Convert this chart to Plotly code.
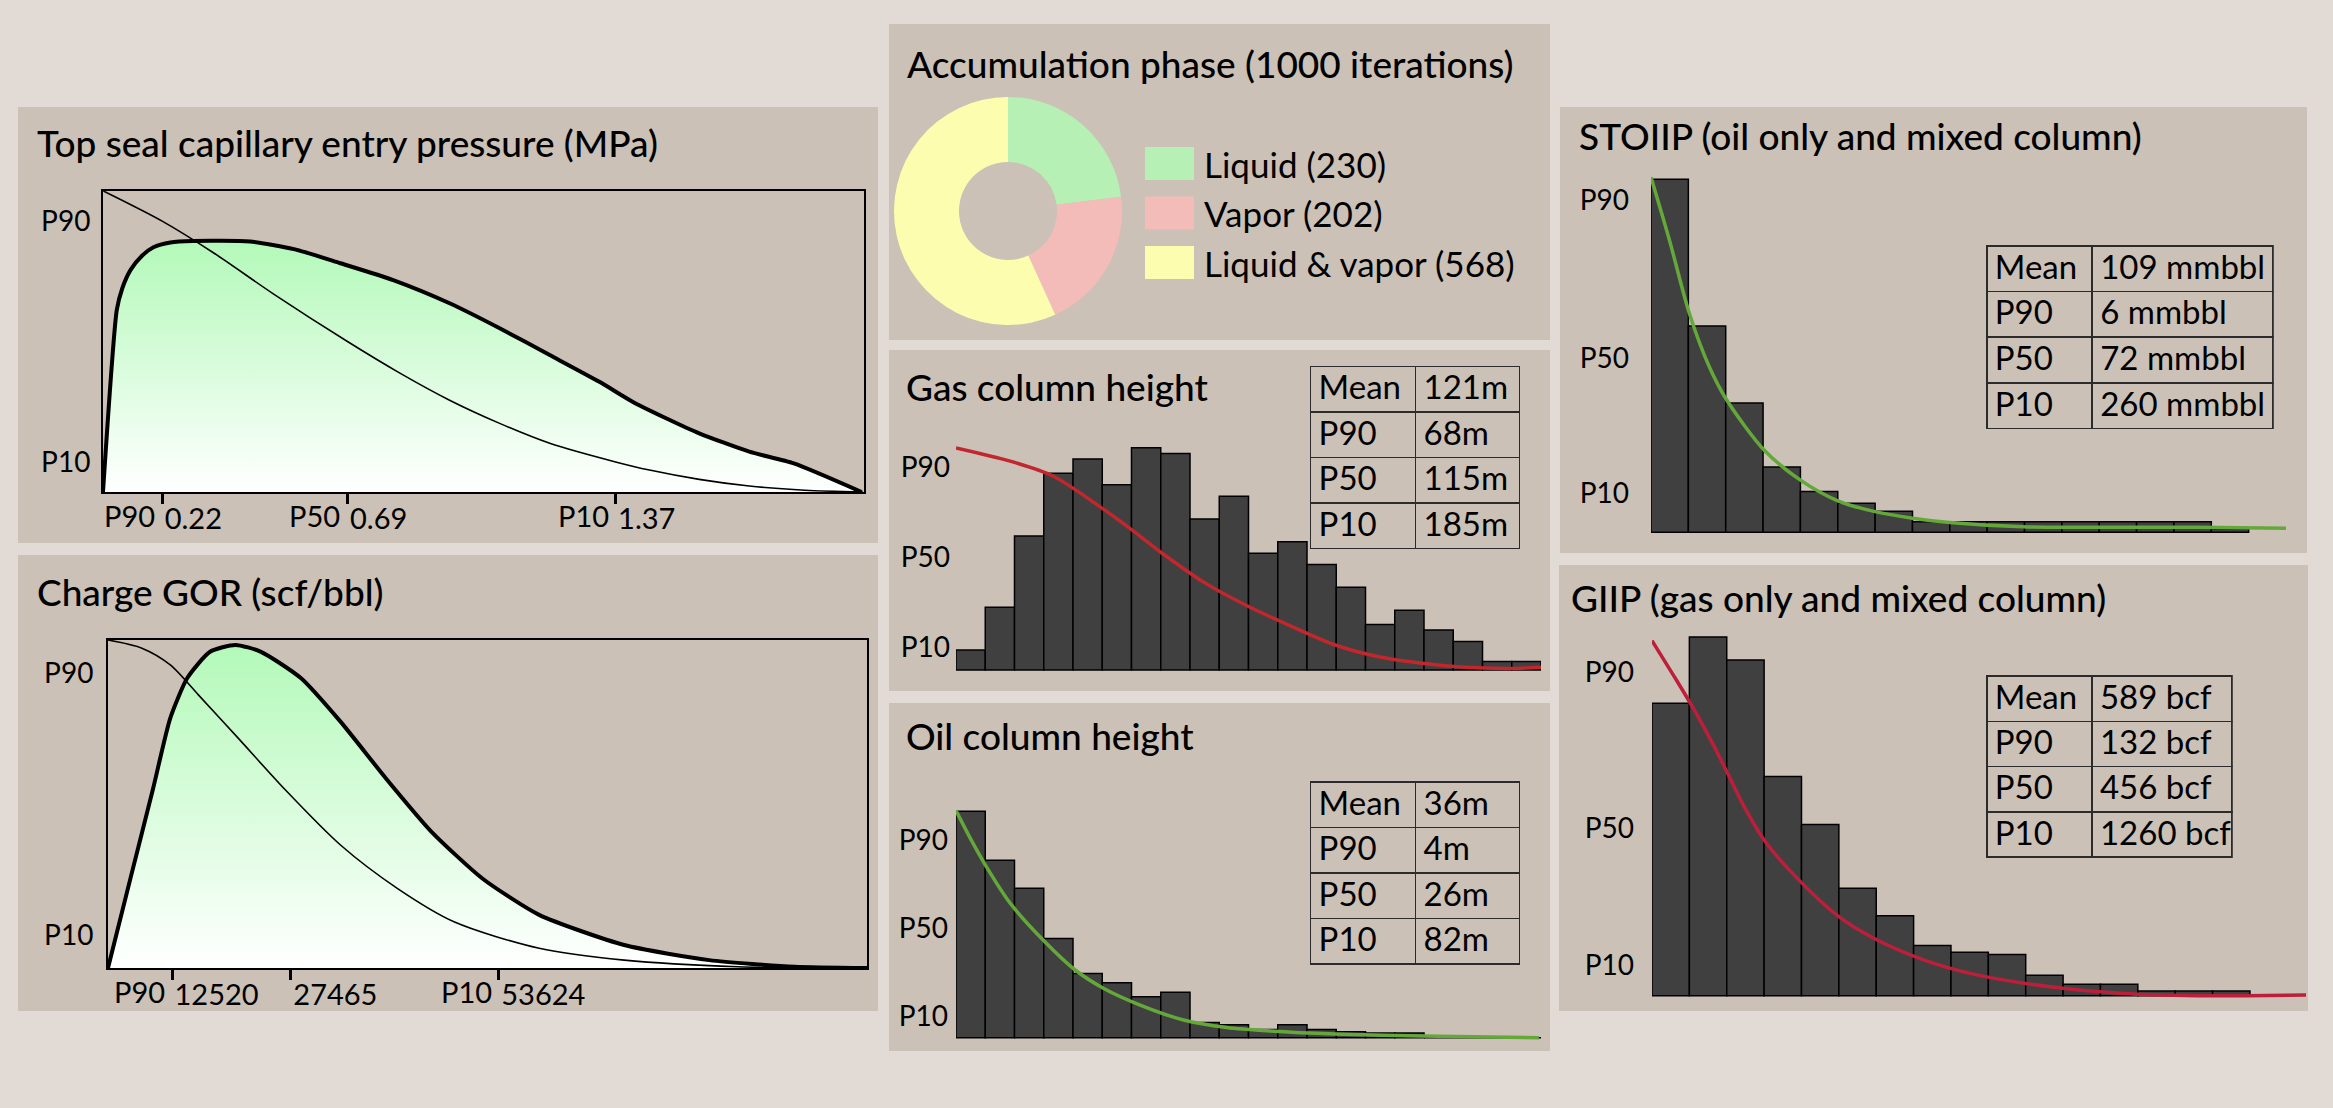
import plotly.graph_objects as go

W, H = 2333, 1108
PAGE = "#e2dbd5"
PANEL = "#cbc1b6"
BAR = "#404040"
FILL_GREEN = "#b3f9b9"
FONT = "Lato"

# ---- Top seal capillary entry pressure (MPa) ----
seal_pdf_x = [0.07, 0.105, 0.119, 0.14, 0.169, 0.198, 0.241, 0.298, 0.443, 0.557,
              0.672, 0.806, 0.949, 1.076, 1.203, 1.329, 1.413, 1.498, 1.582, 1.709,
              1.822, 1.994]
seal_pdf_y = [0, 60.5, 67.7, 73.8, 78.5, 81.3, 82.9, 83.4, 83.2, 80.6,
              76, 70.4, 62.7, 54.4, 45.5, 36.6, 30, 24.5, 19.5, 13.4,
              9.5, 0]
seal_exc_x = [0.071, 0.22, 0.35, 0.50, 0.69, 0.823, 0.949, 1.076, 1.203, 1.37,
              1.456, 1.582, 1.709, 1.85, 1.997]
seal_exc_y = [100, 90, 79.5, 66, 50, 39.5, 30.5, 22.8, 16.2, 10,
              7.3, 4.2, 2.0, 0.6, 0]
seal_ticks = [0.22, 0.69, 1.37]
seal_tick_names = ["P90", "P50", "P10"]

# ---- Charge GOR (scf/bbl) ----
gor_pdf_x = [4465, 7296, 10155, 12300, 14440, 17300, 20500, 23710, 28720, 33710,
             39430, 45130, 51560, 58700, 69400, 80100, 90830, 99940]
gor_pdf_y = [0, 27.4, 54.9, 76.2, 88.4, 96.4, 98.5, 96.4, 88.4, 75.1,
             57.8, 41.6, 27.3, 16.2, 7, 2.4, 0.4, 0]
gor_exc_x = [4465, 8730, 12300, 15860, 20870, 26580, 33710, 40850, 47990, 58700,
             69400, 83700, 99940]
gor_exc_y = [100, 97.5, 92.4, 83.2, 70, 54.8, 37.5, 24.3, 14.1, 6, 2.4, 0.4, 0]
gor_ticks = [12520, 27465, 53624]
gor_tick_names = ["P90", "", "P10"]

# ---- Accumulation phase ----
phase_labels = ["Liquid", "Vapor", "Liquid & vapor"]
phase_counts = [230, 202, 568]
phase_colors = ["#b6f0b4", "#f4bcb9", "#fdfdb0"]

# ---- histograms (counts per bin) and fitted curves ----
gas_counts = [7, 22, 47, 69, 74, 65, 78, 76, 53, 61, 41, 45, 37, 29, 16, 21, 14, 10, 3, 3]
gas_bin_start, gas_bin_width = 35, 10.9
gas_curve_x = [35, 55.2, 71.3, 87.5, 100.4, 111.7, 127.9, 144, 160.2, 176.3,
               192.5, 208.6, 224.8, 240.9, 253]
gas_curve_y = [98.7, 92.8, 86.1, 73.5, 62.4, 52, 38.6, 28.2, 19.3, 11.1,
               5.9, 3, 1.2, 0.7, 1.2]
gas_stats = ["121m", "68m", "115m", "185m"]

oil_counts = [194, 152, 128, 85, 55, 47, 35, 39, 13, 11, 7, 11, 7, 5, 4, 4, 0, 0, 0, 0]
oil_bin_start, oil_bin_width = 0, 10.8
oil_curve_x = [0, 5.6, 11.2, 20, 32.8, 44, 54.4, 68, 84, 100, 116, 140, 172, 215.2]
oil_curve_y = [103.7, 90.3, 78.1, 61.4, 43.8, 30.9, 22.6, 14.9, 8.1, 4.7, 3.1, 1.7, 0.8, 0]
oil_stats = ["36m", "4m", "26m", "82m"]

stoiip_counts = [303, 177, 111, 56, 35, 25, 18, 9, 9, 9, 9, 9, 9, 9, 9, 3]
stoiip_bin_start, stoiip_bin_width = 0, 40
stoiip_curve_x = [0, 19.7, 41.1, 62.4, 81.1, 121.1, 160, 200, 240, 280, 320,
                  398.4, 478.4, 585, 681]
stoiip_curve_y = [98, 80.7, 60.4, 45.7, 36.5, 22.7, 14.4, 8.7, 5.7, 3.9, 2.7,
                  1.5, 1.4, 1.4, 1.1]
stoiip_stats = ["109 mmbbl", "6 mmbbl", "72 mmbbl", "260 mmbbl"]

giip_counts = [128, 157, 147, 96, 75, 47, 35, 22, 19, 18, 9, 5, 5, 2, 2, 2]
giip_bin_start, giip_bin_width = 0, 170
giip_curve_x = [0, 102, 192.7, 283.3, 351.3, 419.3, 510, 668.7, 850, 1008.7,
                1235.3, 1462, 1802, 2142, 2482, 2708.7, 2980.7]
giip_curve_y = [97.1, 87.2, 78.1, 68.1, 59.9, 51.7, 42.6, 31.6, 21.6, 15.7,
                9.8, 5.9, 2.5, 0.6, 0, 0, 0.2]
giip_stats = ["589 bcf", "132 bcf", "456 bcf", "1260 bcf"]

stat_names = ["Mean", "P90", "P50", "P10"]


def dx(x0, x1):
    return [x0 / W, x1 / W]


def dy(top, bottom):
    return [1 - bottom / H, 1 - top / H]


fig = go.Figure()
layout = {}
shapes = []
annotations = []

# panel backgrounds (px: left, top, right, bottom)
panels = [(18, 107, 878, 543), (18, 555, 878, 1011), (889, 24, 1550, 340),
          (889, 350, 1550, 691), (889, 703, 1550, 1051),
          (1560, 107, 2307, 553), (1559, 565, 2308, 1011)]
for l, t, r, b in panels:
    shapes.append(dict(type="rect", xref="paper", yref="paper", x0=l / W, x1=r / W,
                       y0=1 - b / H, y1=1 - t / H, fillcolor=PANEL, line_width=0,
                       layer="below"))

titles = [("Top seal capillary entry pressure (MPa)", 35, 142),
          ("Charge GOR (scf/bbl)", 35, 591),
          ("Accumulation phase (1000 iterations)", 905, 63),
          ("Gas column height", 904, 386),
          ("Oil column height", 904, 735),
          ("STOIIP (oil only and mixed column)", 1577, 136),
          ("GIIP (gas only and mixed column)", 1569, 597)]
for text, x, y in titles:
    annotations.append(dict(text=text, x=x / W, y=1 - y / H, xref="paper", yref="paper",
                            xanchor="left", yanchor="middle", showarrow=False,
                            font=dict(size=37, color="black", weight=500)))

# ---- distribution panels (seal pressure, GOR) ----
dist_panels = [
    dict(n="", px=(103, 191, 864, 492), xr=[0.07, 2.0], pdf=(seal_pdf_x, seal_pdf_y),
         exc=(seal_exc_x, seal_exc_y), ticks=seal_ticks, names=seal_tick_names,
         fmt="{:.2f}", std=5),
    dict(n="2", px=(108, 640, 867, 968), xr=[4465, 99940], pdf=(gor_pdf_x, gor_pdf_y),
         exc=(gor_exc_x, gor_exc_y), ticks=gor_ticks, names=gor_tick_names,
         fmt="{:d}", std=7),
]
for p in dist_panels:
    xa, ya = "x" + p["n"], "y" + p["n"]
    l, t, r, b = p["px"]
    top_pdf = max(p["pdf"][1])
    fig.add_trace(go.Scatter(
        x=p["pdf"][0], y=p["pdf"][1], mode="lines",
        line=dict(width=0, shape="spline", smoothing=0.6), fill="tozeroy",
        fillgradient=dict(type="vertical", start=0, stop=top_pdf,
                          colorscale=[[0, "#ffffff"], [1, FILL_GREEN]]),
        xaxis=xa, yaxis=ya, hoverinfo="skip"))
    fig.add_trace(go.Scatter(
        x=p["exc"][0], y=p["exc"][1], mode="lines",
        line=dict(color="black", width=1.6, shape="spline", smoothing=0.8),
        xaxis=xa, yaxis=ya, hoverinfo="skip"))
    fig.add_trace(go.Scatter(
        x=p["pdf"][0], y=p["pdf"][1], mode="lines",
        line=dict(color="black", width=4, shape="spline", smoothing=0.6),
        xaxis=xa, yaxis=ya, hoverinfo="skip"))
    layout["xaxis" + p["n"]] = dict(
        domain=dx(l, r), range=p["xr"], anchor=ya, showgrid=False, zeroline=False,
        showline=True, linecolor="black", linewidth=2, mirror=True,
        ticks="outside", ticklen=10, tickwidth=3, tickcolor="black",
        tickvals=p["ticks"], ticktext=[p["fmt"].format(v) for v in p["ticks"]],
        ticklabelposition="outside right", tickfont=dict(size=29, color="black"))
    layout["yaxis" + p["n"]] = dict(
        domain=dy(t, b), range=[0, 100], anchor=xa, showgrid=False, zeroline=False,
        showline=True, linecolor="black", linewidth=2, mirror=True, ticks="",
        tickvals=[90, 10], ticktext=["P90", "P10"], ticklabelstandoff=p["std"],
        tickfont=dict(size=28, color="black"))
    for v, name in zip(p["ticks"], p["names"]):
        if name:
            annotations.append(dict(text=name, x=v, y=0, xref=xa, yref=ya,
                                    xanchor="right", yanchor="top", xshift=-5, yshift=-4,
                                    showarrow=False, font=dict(size=29, color="black")))

# ---- accumulation phase donut ----
cx, cy, rad = 1008, 211, 114
fig.add_trace(go.Pie(
    labels=phase_labels, values=phase_counts, hole=0.43, sort=False,
    direction="clockwise", rotation=0, textinfo="none",
    marker=dict(colors=phase_colors, line=dict(width=0)),
    domain=dict(x=dx(cx - rad, cx + rad), y=dy(cy - rad, cy + rad)),
    showlegend=False))
for i, (lab, cnt, col) in enumerate(zip(phase_labels, phase_counts, phase_colors)):
    top = 147 + i * 49.5
    shapes.append(dict(type="rect", xref="paper", yref="paper", x0=1145 / W, x1=1194 / W,
                       y0=1 - (top + 33) / H, y1=1 - top / H, fillcolor=col, line_width=0))
    annotations.append(dict(text=f"{lab} ({cnt})", x=1202 / W, y=1 - (top + 17) / H,
                            xref="paper", yref="paper", xanchor="left", yanchor="middle",
                            showarrow=False, font=dict(size=35, color="black")))

# ---- histogram panels ----
hists = [
    dict(k=3, counts=gas_counts, b0=gas_bin_start, bw=gas_bin_width, xr=[35, 253],
         cx=gas_curve_x, cy=gas_curve_y, color="#c1272d", px=(956, 440, 1541, 676),
         pr=[-2.67, 102.2], cr=[-2.11, 80.7], tv=[90, 50, 10], std=5),
    dict(k=4, counts=oil_counts, b0=oil_bin_start, bw=oil_bin_width, xr=[0, 216],
         cx=oil_curve_x, cy=oil_curve_y, color="#65a83a", px=(956, 800, 1541, 1043.7),
         pr=[-2.74, 108.5], cr=[-5.14, 203.6], tv=[90, 50, 10], std=7),
    dict(k=5, counts=stoiip_counts, b0=stoiip_bin_start, bw=stoiip_bin_width, xr=[0, 680],
         cx=stoiip_curve_x, cy=stoiip_curve_y, color="#65a83a", px=(1651, 170, 2286, 538.3),
         pr=[-1.66, 100], cr=[-5.15, 311], tv=[91.7, 48.1, 10.8], std=21),
    dict(k=6, counts=giip_counts, b0=giip_bin_start, bw=giip_bin_width, xr=[0, 2975],
         cx=giip_curve_x, cy=giip_curve_y, color="#bd1f3b", px=(1652, 630, 2306, 1001.7),
         pr=[-1.64, 100], cr=[-2.63, 160.1], tv=[88.6, 45.9, 8.3], std=17),
]
ynum = 3
for h in hists:
    xa = "x%d" % h["k"]
    yc, yp = "y%d" % ynum, "y%d" % (ynum + 1)
    l, t, r, b = h["px"]
    centres = [h["b0"] + (i + 0.5) * h["bw"] for i in range(len(h["counts"]))]
    fig.add_trace(go.Bar(
        x=centres, y=h["counts"], width=h["bw"], xaxis=xa, yaxis=yc,
        marker=dict(color=BAR, line=dict(color="black", width=1.5)), hoverinfo="y"))
    fig.add_trace(go.Scatter(
        x=h["cx"], y=h["cy"], mode="lines", xaxis=xa, yaxis=yp,
        line=dict(color=h["color"], width=3.5, shape="spline", smoothing=0.8),
        hoverinfo="skip"))
    layout["xaxis%d" % h["k"]] = dict(domain=dx(l, r), range=h["xr"], anchor=yc,
                                      visible=False)
    layout["yaxis%d" % ynum] = dict(domain=dy(t, b), range=h["cr"], anchor=xa,
                                    visible=False)
    layout["yaxis%d" % (ynum + 1)] = dict(
        overlaying=yc, anchor=xa, range=h["pr"], showgrid=False, zeroline=False,
        showline=False, ticks="", tickvals=h["tv"], ticktext=["P90", "P50", "P10"],
        ticklabelstandoff=h["std"], tickfont=dict(size=28, color="black"))
    ynum += 2

# ---- summary tables ----
tables = [
    (gas_stats, 1310.6, 366.7, [105.4, 104.5], 45.5),
    (oil_stats, 1310.6, 782, [105.4, 104.5], 45.5),
    (stoiip_stats, 1986.8, 246, [105.5, 180.7], 45.6),
    (giip_stats, 1986.8, 676, [105.5, 140.3], 45.3),
]
for stats, left, top, cw, rh in tables:
    vals = [s.replace(" ", "\u00a0") for s in stats]  # keep "1260 bcf" on one line
    fig.add_trace(go.Table(
        domain=dict(x=dx(left, left + sum(cw)), y=dy(top, top + 4 * rh + 4)),
        columnwidth=cw,
        header=dict(values=[stat_names[0], vals[0]], height=rh, align="left",
                    fill_color="rgba(0,0,0,0)", line=dict(color="#2b2b2b", width=1.5),
                    font=dict(size=33, color="black", family=FONT)),
        cells=dict(values=[stat_names[1:], vals[1:]], height=rh, align="left",
                   fill_color="rgba(0,0,0,0)", line=dict(color="#2b2b2b", width=1.5),
                   font=dict(size=33, color="black", family=FONT))))

fig.update_layout(
    width=W, height=H, margin=dict(l=0, r=0, t=0, b=0),
    paper_bgcolor=PAGE, plot_bgcolor="rgba(0,0,0,0)",
    font=dict(family=FONT, color="black"), showlegend=False,
    shapes=shapes, annotations=annotations, **layout)

fig.write_html("out.html", config={"displayModeBar": False},
               post_script="document.body.style.margin='0px';")
